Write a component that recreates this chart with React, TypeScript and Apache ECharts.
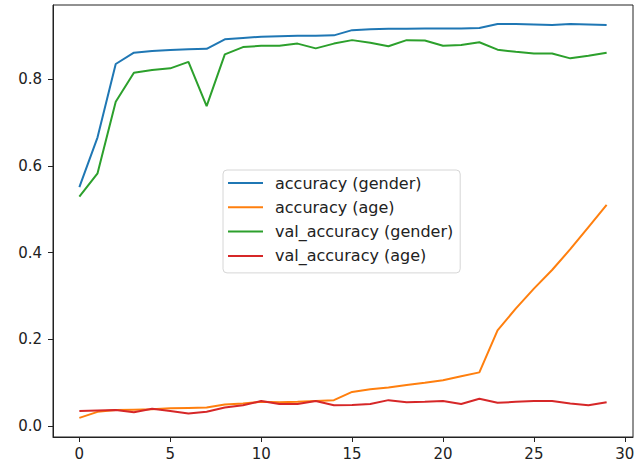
import React, { useEffect, useRef } from "react";
import * as echarts from "echarts";

const epochs: number[] = Array.from({ length: 30 }, (_, i) => i);

const accuracyGender: number[] = [
  0.551, 0.666, 0.835, 0.861, 0.865, 0.867, 0.869, 0.870, 0.892, 0.895,
  0.898, 0.899, 0.900, 0.900, 0.901, 0.913, 0.915, 0.916, 0.916, 0.917,
  0.917, 0.917, 0.918, 0.927, 0.927, 0.926, 0.925, 0.927, 0.926, 0.925,
];
const accuracyAge: number[] = [
  0.019, 0.033, 0.037, 0.038, 0.039, 0.041, 0.042, 0.043, 0.050, 0.052,
  0.056, 0.055, 0.056, 0.058, 0.060, 0.079, 0.085, 0.089, 0.095, 0.100,
  0.106, 0.115, 0.124, 0.221, 0.271, 0.317, 0.360, 0.408, 0.459, 0.510,
];
const valAccuracyGender: number[] = [
  0.529, 0.583, 0.748, 0.815, 0.821, 0.825, 0.840, 0.738, 0.857, 0.874,
  0.877, 0.877, 0.882, 0.871, 0.882, 0.890, 0.884, 0.876, 0.890, 0.889,
  0.877, 0.879, 0.885, 0.868, 0.863, 0.859, 0.859, 0.848, 0.854, 0.861,
];
const valAccuracyAge: number[] = [
  0.035, 0.036, 0.037, 0.032, 0.040, 0.035, 0.029, 0.033, 0.043, 0.048,
  0.058, 0.051, 0.051, 0.058, 0.048, 0.049, 0.051, 0.060, 0.055, 0.056,
  0.058, 0.051, 0.063, 0.054, 0.056, 0.058, 0.058, 0.052, 0.048, 0.055,
];

const seriesNames: string[] = [
  "accuracy (gender)",
  "accuracy (age)",
  "val_accuracy (gender)",
  "val_accuracy (age)",
];
const seriesColors: string[] = ["#1f77b4", "#ff7f0e", "#2ca02c", "#d62728"];
const xTicks: number[] = [0, 5, 10, 15, 20, 25, 30];
const yTicks: number[] = [0, 0.2, 0.4, 0.6, 0.8];

const FONT = "DejaVu Sans";

export default function App() {
  const ref = useRef<HTMLDivElement>(null);

  useEffect(() => {
    if (!ref.current) return;
    const chart = echarts.init(ref.current, undefined, { renderer: "svg" });
    const allValues = [accuracyGender, accuracyAge, valAccuracyGender, valAccuracyAge];
    const series = allValues.map((vals, k) => ({
      name: seriesNames[k],
      type: "line",
      data: epochs.map((e, i) => [e, vals[i]]),
      showSymbol: false,
      symbol: "none",
      lineStyle: { width: 2, color: seriesColors[k] },
      itemStyle: { color: seriesColors[k] },
      z: 2,
    }));
    chart.setOption({
      animation: false,
      backgroundColor: "#ffffff",
      grid: {
        left: 53,
        right: 11,
        top: 5,
        bottom: 29,
        show: true,
        borderColor: "#222",
        borderWidth: 1,
        backgroundColor: "transparent",
      },
      legend: {
        orient: "vertical",
        left: 223,
        top: 170,
        icon: "rect",
        itemWidth: 35,
        itemHeight: 2,
        itemGap: 6.3,
        padding: [4, 7, 8, 5],
        backgroundColor: "#ffffff",
        borderColor: "#d6d6d6",
        borderWidth: 1,
        borderRadius: 4,
        selectedMode: false,
        textStyle: {
          fontFamily: FONT,
          fontSize: 16,
          lineHeight: 18,
          color: "#222",
          padding: [0, 0, 0, 7],
        },
        data: seriesNames,
      },
      xAxis: {
        type: "value",
        min: -1.45,
        max: 30.45,
        splitLine: { show: false },
        axisLine: { show: true, onZero: false, lineStyle: { color: "#222", width: 1 } },
        axisTick: {
          show: true,
          length: 5,
          customValues: xTicks,
          lineStyle: { color: "#222" },
        },
        axisLabel: {
          customValues: xTicks,
          margin: 9,
          fontFamily: FONT,
          fontSize: 15,
          color: "#222",
        },
      },
      yAxis: {
        type: "value",
        min: -0.025,
        max: 0.971,
        splitLine: { show: false },
        axisLine: { show: true, onZero: false, lineStyle: { color: "#222", width: 1 } },
        axisTick: {
          show: true,
          length: 5,
          customValues: yTicks,
          lineStyle: { color: "#222" },
        },
        axisLabel: {
          customValues: yTicks,
          margin: 11,
          fontFamily: FONT,
          fontSize: 15,
          color: "#222",
          formatter: (v: number) => v.toFixed(1),
        },
      },
      series,
    });
    return () => chart.dispose();
  }, []);

  return (
    <div
      ref={ref}
      style={{ position: "fixed", left: 0, top: 0, width: 644, height: 466, background: "#fff" }}
    />
  );
}
